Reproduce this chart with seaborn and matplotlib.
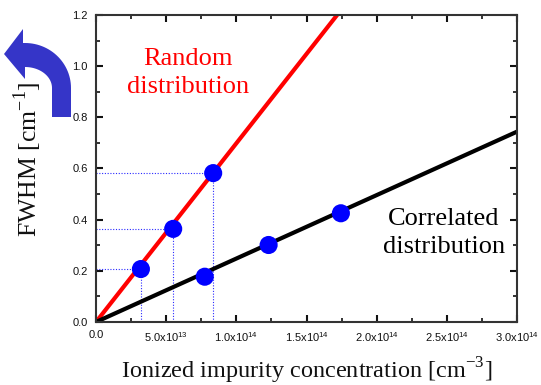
import numpy as np
import pandas as pd
import seaborn as sns
import matplotlib
matplotlib.use("Agg")
import matplotlib.pyplot as plt
from matplotlib.patches import Polygon
from matplotlib.ticker import MultipleLocator

# Measured FWHM versus ionized impurity concentration
random_conc = [3.2e13, 5.5e13, 8.35e13]
random_fwhm = [0.207, 0.364, 0.582]
correlated_conc = [7.75e13, 1.23e14, 1.745e14]
correlated_fwhm = [0.177, 0.301, 0.425]

# Linear fits through the origin
random_fit_conc = [0.0, 1.718e14]
random_fit_fwhm = [0.0, 1.2]
correlated_fit_conc = [0.0, 3.0e14]
correlated_fit_fwhm = [0.0, 0.744]

x_ticks = [0.0, 5e13, 1e14, 1.5e14, 2e14, 2.5e14, 3e14]
x_tick_labels = ["0.0", r"5.0x10$^{\mathregular{13}}$", r"1.0x10$^{\mathregular{14}}$",
                 r"1.5x10$^{\mathregular{14}}$", r"2.0x10$^{\mathregular{14}}$",
                 r"2.5x10$^{\mathregular{14}}$", r"3.0x10$^{\mathregular{14}}$"]
y_ticks = [0.0, 0.2, 0.4, 0.6, 0.8, 1.0, 1.2]
y_tick_labels = ["0.0", "0.2", "0.4", "0.6", "0.8", "1.0", "1.2"]

sns.set_theme(style="ticks")
plt.rcParams["font.family"] = ["Liberation Sans", "DejaVu Sans"]
plt.rcParams["axes.unicode_minus"] = False

W, H = 541, 385
fig = plt.figure(figsize=(W / 100, H / 100), dpi=100)
ax = fig.add_axes([96 / W, 1 - 322 / H, (517 - 96) / W, (322 - 15) / H])

guide = dict(color="#2a2aff", lw=0.8, ls=(0, (1, 1.5)), zorder=1)
for xc, yv in zip(random_conc, random_fwhm):
    ax.plot([0, xc], [yv, yv], **guide)
    ax.plot([xc, xc], [0, yv], **guide)

sns.lineplot(x=random_fit_conc, y=random_fit_fwhm, ax=ax, color="#ff0000",
             lw=3.0, zorder=2)
sns.lineplot(x=correlated_fit_conc, y=correlated_fit_fwhm, ax=ax,
             color="#000000", lw=3.0, zorder=2)

points = pd.DataFrame({
    "conc": random_conc + correlated_conc,
    "fwhm": random_fwhm + correlated_fwhm,
})
sns.scatterplot(data=points, x="conc", y="fwhm", ax=ax, color="#0000ff",
                s=170, edgecolor="none", zorder=3)

ax.set_xlim(0, 3e14)
ax.set_ylim(0, 1.2)
ax.set_xticks(x_ticks)
ax.set_xticklabels(x_tick_labels)
ax.set_yticks(y_ticks)
ax.set_yticklabels(y_tick_labels)
ax.xaxis.set_minor_locator(MultipleLocator(2.5e13))
ax.yaxis.set_minor_locator(MultipleLocator(0.1))

for side in ["left", "right", "top", "bottom"]:
    ax.spines[side].set_visible(True)
    ax.spines[side].set_color("#333333")
    ax.spines[side].set_linewidth(1.5)
ax.tick_params(which="both", direction="in", top=True, right=True,
               color="#111111", labelsize=8, labelcolor="#111111")
ax.tick_params(which="major", length=5, width=1.5, pad=6)
ax.tick_params(which="minor", length=3, width=1.2)

serif = ["Liberation Serif", "DejaVu Serif"]
ax.set_xlabel(r"Ionized impurity concentration [cm$^{\mathregular{-3}}$]",
              family=serif, fontsize=17.5, color="#111111")
ax.set_ylabel(r"FWHM [cm$^{\mathregular{-1}}$]", family=serif, fontsize=18.5,
              color="#111111")
ax.xaxis.set_label_coords(0.5, -0.11)
ax.yaxis.set_label_coords(-0.123, 0.53)

ax.text(188 / W, 1 - 73 / H, "Random\ndistribution", transform=fig.transFigure,
        ha="center", va="center", family=serif, fontsize=19, color="#ff0000",
        linespacing=1.4)
ax.text(444 / W, 1 - 233 / H, "Correlated\ndistribution", transform=fig.transFigure,
        ha="center", va="center", family=serif, fontsize=19, color="#000000",
        linespacing=1.4)

# Curved arrow pointing at the FWHM axis
cx, cy = 25.0, 88.0
t = np.linspace(0, np.pi / 2, 30)
outer = [(cx + 46 * np.cos(a), cy - 45 * np.sin(a)) for a in t]
inner = [(cx + 27 * np.cos(a), cy - 21 * np.sin(a)) for a in t[::-1]]
shape = ([(71, 117)] + outer + [(23, 43), (23, 29), (4, 54), (25, 79), (25, 67)]
         + inner + [(52, 117)])
shape = [(px / W, 1 - py / H) for px, py in shape]
fig.add_artist(Polygon(shape, closed=True, transform=fig.transFigure,
                       facecolor="#3535c8", edgecolor="none"))

fig.savefig("out.png", dpi=100)
